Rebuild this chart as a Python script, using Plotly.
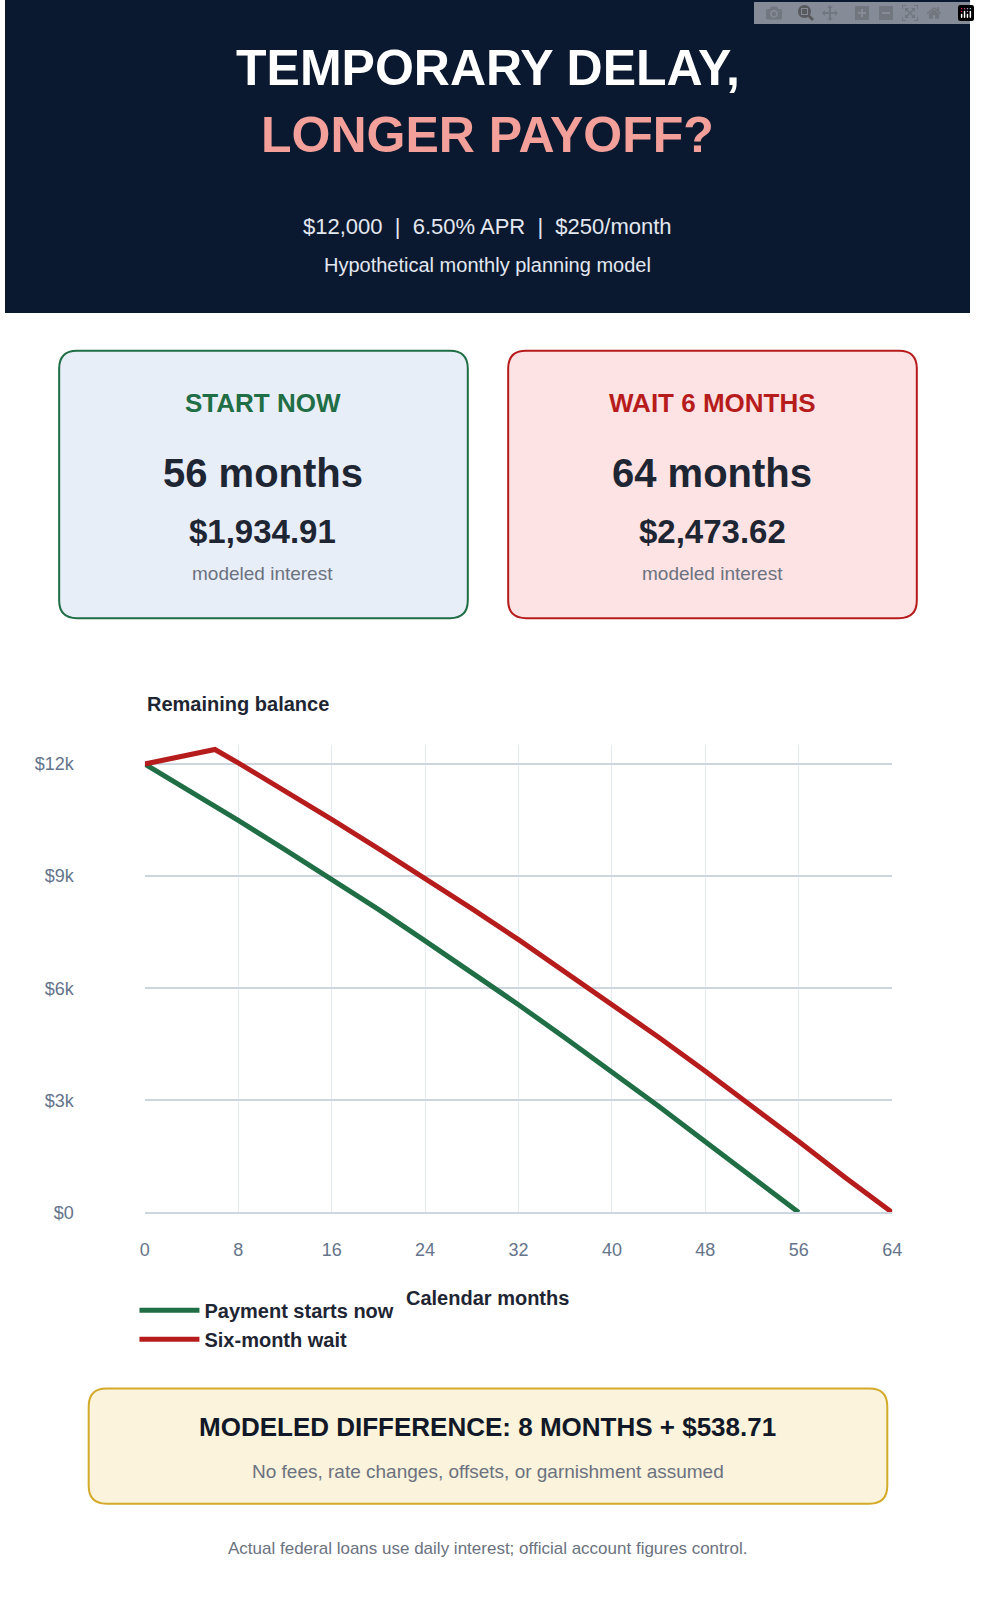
import plotly.graph_objects as go

W, H = 980, 1620

# balances
now_months = [0, 4, 8, 12, 16, 20, 24, 28, 32, 36, 40, 44, 48, 52, 56]
now_balance = [12000, 11250, 10490, 9710, 8920, 8110, 7270, 6430, 5560, 4670, 3770, 2840, 1890, 930, 0]
wait_months = [0, 6, 8, 12, 16, 20, 24, 28, 32, 36, 40, 44, 48, 52, 56, 60, 64]
wait_balance = [12000, 12390, 12030, 11280, 10520, 9740, 8940, 8130, 7300, 6440, 5580, 4690, 3780, 2850, 1900, 930, 0]
y_ticks = [0, 3000, 6000, 9000, 12000]
y_labels = ["$0", "$3k", "$6k", "$9k", "$12k"]
x_ticks = [0, 8, 16, 24, 32, 40, 48, 56, 64]

GREEN = "#1f6e45"
RED = "#b71c1c"
FONT = "Liberation Sans, Arial, sans-serif"


def px(x):
    return x / W


def py(y):
    return 1 - y / H


def rounded(x0, y0, x1, y1, r=18):
    rx, ry = r / W, r / H
    a, b, c, d = px(x0), py(y1), px(x1), py(y0)
    return (f"M{a+rx},{b} L{c-rx},{b} Q{c},{b} {c},{b+ry} L{c},{d-ry} Q{c},{d} {c-rx},{d} "
            f"L{a+rx},{d} Q{a},{d} {a},{d-ry} L{a},{b+ry} Q{a},{b} {a+rx},{b} Z")


fig = go.Figure()
fig.add_trace(go.Scatter(x=now_months, y=now_balance, mode="lines", name="<b>Payment starts now</b>",
                         line=dict(color=GREEN, width=5)))
fig.add_trace(go.Scatter(x=wait_months, y=wait_balance, mode="lines", name="<b>Six-month wait</b>",
                         line=dict(color=RED, width=5)))

shapes = [
    dict(type="rect", xref="paper", yref="paper", x0=0, x1=1, y0=py(315), y1=1,
         fillcolor="#0b1930", line_width=0, layer="below"),
    dict(type="path", xref="paper", yref="paper", path=rounded(55, 353, 470, 622),
         fillcolor="#e8eef8", line=dict(color=GREEN, width=2), layer="below"),
    dict(type="path", xref="paper", yref="paper", path=rounded(511, 353, 926, 622),
         fillcolor="#fde3e3", line=dict(color=RED, width=2), layer="below"),
    dict(type="path", xref="paper", yref="paper", path=rounded(85, 1397, 896, 1513),
         fillcolor="#fbf3dc", line=dict(color="#d4aa2a", width=2), layer="below"),
]


def txt(x, y, text, size, color, bold=False, xanchor="center"):
    if bold:
        text = f"<b>{text}</b>"
    return dict(xref="paper", yref="paper", x=px(x), y=py(y), text=text, showarrow=False,
                xanchor=xanchor, yanchor="middle", font=dict(size=size, color=color, family=FONT))


annotations = [
    txt(490, 68, "TEMPORARY DELAY,", 50, "white", True),
    txt(490, 136, "LONGER PAYOFF?", 50, "#f4a09a", True),
    txt(490, 228, "$12,000  |  6.50% APR  |  $250/month", 22, "#e3e8f0"),
    txt(490, 267, "Hypothetical monthly planning model", 20, "#e3e8f0"),
    txt(262, 405, "START NOW", 26, GREEN, True),
    txt(262, 476, "56 months", 40, "#1e2533", True),
    txt(262, 535, "$1,934.91", 33, "#1e2533", True),
    txt(262, 577, "modeled interest", 19, "#6b7280"),
    txt(718, 405, "WAIT 6 MONTHS", 26, RED, True),
    txt(718, 476, "64 months", 40, "#1e2533", True),
    txt(718, 535, "$2,473.62", 33, "#1e2533", True),
    txt(718, 577, "modeled interest", 19, "#6b7280"),
    txt(142, 708, "Remaining balance", 20, "#1e2533", True, xanchor="left"),
    txt(490, 1306, "Calendar months", 20, "#1e2533", True),
    txt(490, 1436, "MODELED DIFFERENCE: 8 MONTHS + $538.71", 26, "#111827", True),
    txt(490, 1481, "No fees, rate changes, offsets, or garnishment assumed", 19, "#6b7280"),
    txt(490, 1558, "Actual federal loans use daily interest; official account figures control.", 17, "#6b7280"),
]

fig.update_layout(
    width=W, height=H,
    margin=dict(l=0, r=0, t=0, b=0),
    paper_bgcolor="white", plot_bgcolor="white",
    font=dict(family=FONT, color="#64748b"),
    shapes=shapes, annotations=annotations,
    xaxis=dict(domain=[px(142), px(901)], range=[0, 64], tickvals=x_ticks,
               showgrid=True, gridcolor="#e5e9f0", zeroline=False,
               showline=True, linecolor="#cdd5e0", linewidth=1.5,
               tickfont=dict(size=18, color="#64748b"), ticklabelstandoff=20),
    yaxis=dict(domain=[py(1220), py(750)], range=[0, 12500], tickvals=y_ticks, ticktext=y_labels,
               showgrid=True, gridcolor="#cdd5e0", gridwidth=1.5, zeroline=False,
               showline=False, tickfont=dict(size=18, color="#64748b"), ticklabelstandoff=70),
    showlegend=True,
    legend=dict(orientation="h", x=px(160), y=py(1333), xanchor="left", yanchor="middle",
                entrywidth=395, entrywidthmode="pixels", itemwidth=60,
                font=dict(size=20, color="#1e2533", family=FONT),
                bgcolor="rgba(0,0,0,0)"),
)

fig.write_html("out.html", post_script="document.body.style.margin='0';")
